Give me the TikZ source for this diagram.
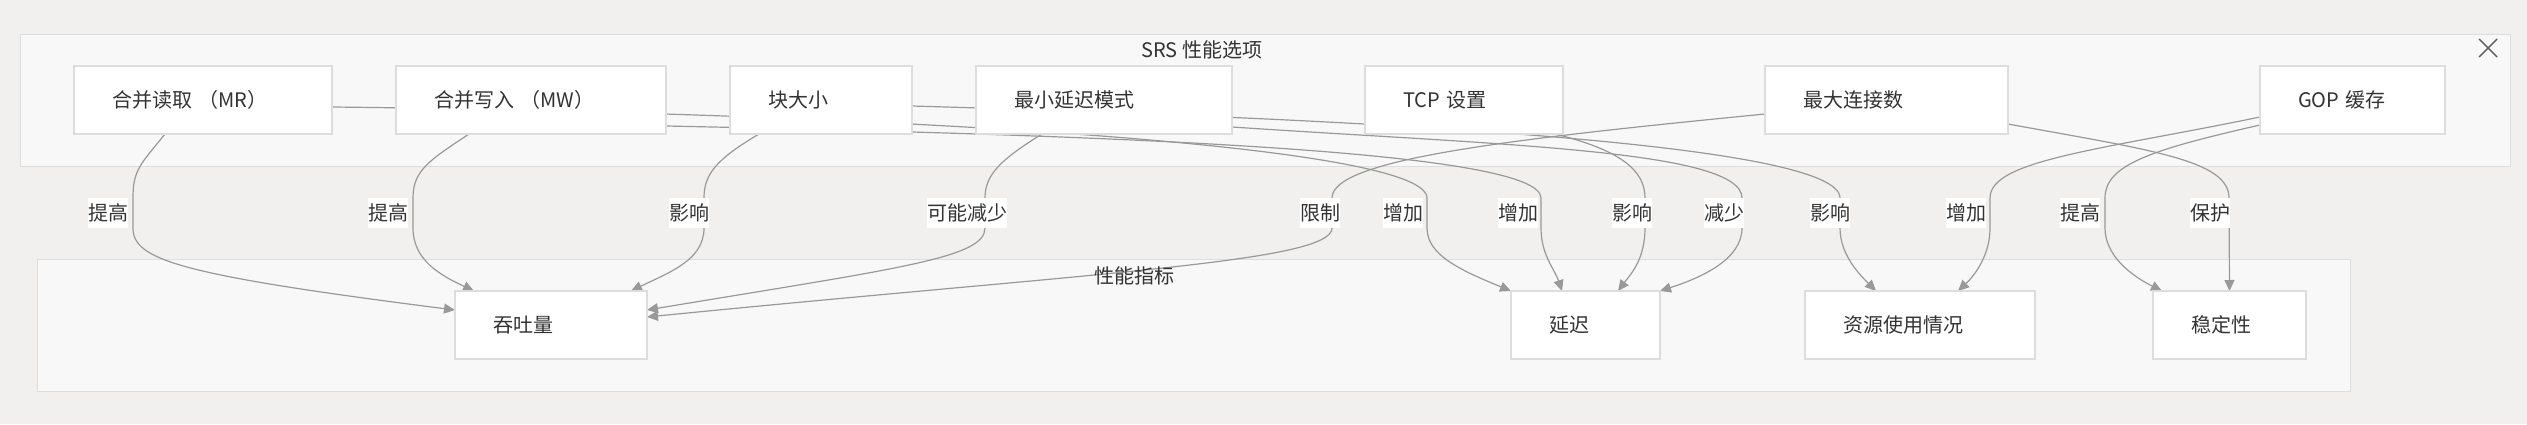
\documentclass[tikz,border=0pt]{standalone}
\usepackage{fontspec}
\setmainfont{Noto Sans CJK SC}
\usepackage{tikz}
\usetikzlibrary{positioning,arrows.meta,backgrounds}
\definecolor{canvas}{HTML}{F1F0EE}
\definecolor{panel}{HTML}{F8F8F8}
\definecolor{frame}{HTML}{DDDDDD}
\definecolor{wire}{HTML}{999999}
\definecolor{ink}{HTML}{333333}
\pgfdeclarelayer{wires}
\pgfsetlayers{background,wires,main}

\begin{document}
\begin{tikzpicture}[
  x=0.5pt,y=-0.5pt,
  font=\fontsize{10pt}{12pt}\selectfont,
  text=ink,
  node distance=32pt,
  box/.style={draw=frame,line width=0.6pt,fill=white,inner xsep=19pt,inner ysep=0pt,
    outer sep=0pt,minimum height=34pt,text width=#1,align=left},
  group/.style={draw=frame,line width=0.6pt,fill=panel,anchor=north west,inner sep=0pt},
  link/.style={draw=wire,line width=0.6pt,-{Triangle[length=5.5pt,width=5pt]}},
  tag/.style={fill=white,inner xsep=0pt,inner ysep=0pt,outer sep=0pt,minimum height=15pt}
]
\useasboundingbox (0,0) rectangle (2527,424);
\begin{scope}[on background layer]
\fill[canvas] (0,0) rectangle (2527,424);
\node[group,minimum width=1245pt,minimum height=66pt] (opts) at (20,34) {};
\node[group,minimum width=1156.5pt,minimum height=66pt] (mets) at (37,259) {};
\end{scope}
\node (opts-title) at (1202,50) {SRS 性能选项};
\node (mets-title) at (1134,276) {性能指标};
\draw[ink!80,line width=0.7pt] (2479,39) -- (2497,57) (2479,57) -- (2497,39);

% options
\node[box=91pt,anchor=north west] (mr) at (74,66) {合并读取 （MR）};
\node[box=97pt,right=of mr] (mw) {合并写入 （MW）};
\node[box=53pt,right=of mw] (cs) {块大小};
\node[box=90pt,right=of cs] (ml) {最小延迟模式};
\node[box=61pt,right=66.5pt of ml] (tcp) {TCP 设置};
\node[box=83.5pt,right=101pt of tcp] (mc) {最大连接数};
\node[box=54.5pt,right=126pt of mc] (gop) {GOP 缓存};

% metrics
\node[box=58pt,anchor=north west] (tp) at (455,291) {吞吐量};
\node[box=36.5pt,right=432pt of tp] (lat) {延迟};
\node[box=77pt,right=72.5pt of lat] (res) {资源使用情况};
\node[box=38.5pt,right=59pt of res] (st) {稳定性};

\begin{pgfonlayer}{wires}
\draw[link] ([xshift=-19pt]mr.south) .. controls (140,165) and (133,170) .. (133,198) -- (133,228) .. controls (133,260) and (180,275) .. ([yshift=7.5pt]tp.west);
\draw[link] ([xshift=-31pt]mw.south) .. controls (430,160) and (413,170) .. (413,198) -- (413,228) .. controls (413,260) and (440,275) .. ([xshift=-38.5pt]tp.north);
\draw[link] ([xshift=-31pt]cs.south) .. controls (715,160) and (704,175) .. (704,198) -- (704,228) .. controls (704,260) and (670,272) .. ([xshift=40pt]tp.north);
\draw[link] ([xshift=-31pt]ml.south) .. controls (1000,160) and (985,175) .. (985,198) -- (985,228) .. controls (985,258) and (900,268) .. ([yshift=7.5pt]tp.east);
\draw[link] ([yshift=-7pt]mc.west) .. controls (1500,140) and (1332,160) .. (1332,198) -- (1332,228) .. controls (1332,262) and (1100,272) .. ([yshift=4pt]tp.east);
\draw[link] ([yshift=-3.5pt]mr.east) .. controls (800,112) and (1427,140) .. (1427,198) -- (1427,228) .. controls (1427,255) and (1460,270) .. (lat.north west);
\draw[link] ([yshift=-13pt]mw.east) .. controls (1100,135) and (1541,150) .. (1541,198) -- (1541,228) .. controls (1541,255) and (1555,270) .. ([xshift=-11.75pt]lat.north);
\draw[link] ([xshift=-4pt]tcp.south east) .. controls (1620,150) and (1645,170) .. (1645,198) -- (1645,228) .. controls (1645,260) and (1630,275) .. ([xshift=16.25pt]lat.north);
\draw[link] ([yshift=-13.5pt]ml.east) .. controls (1500,145) and (1742,150) .. (1742,198) -- (1742,228) .. controls (1742,260) and (1700,278) .. (lat.north east);
\draw[link] ([yshift=-3pt]cs.east) .. controls (1400,120) and (1840,145) .. (1840,198) -- (1840,228) .. controls (1840,255) and (1860,275) .. ([xshift=-22pt]res.north);
\draw[link] ([yshift=-8.5pt]gop.west) .. controls (2100,150) and (1990,160) .. (1990,198) -- (1990,228) .. controls (1990,255) and (1975,275) .. ([xshift=19pt]res.north);
\draw[link] ([yshift=-12.5pt]gop.west) .. controls (2150,150) and (2105,165) .. (2105,198) -- (2105,228) .. controls (2105,255) and (2130,275) .. ([xshift=4.5pt]st.north west);
\draw[link] ([yshift=-12pt]mc.east) .. controls (2150,150) and (2229,160) .. (2229,198) -- (st.north);
\end{pgfonlayer}

% edge labels
\node[tag] (tag-mr-tp) at (108,213) {提高};
\node[tag] (tag-mw-tp) at (388,213) {提高};
\node[tag] (tag-cs-tp) at (689,213) {影响};
\node[tag] (tag-ml-tp) at (967,213) {可能减少};
\node[tag] (tag-mc-tp) at (1320,213) {限制};
\node[tag] (tag-mr-lat) at (1403,213) {增加};
\node[tag] (tag-mw-lat) at (1518,213) {增加};
\node[tag] (tag-tcp-lat) at (1632,213) {影响};
\node[tag] (tag-ml-lat) at (1724,213) {减少};
\node[tag] (tag-cs-res) at (1830,213) {影响};
\node[tag] (tag-gop-res) at (1966,213) {增加};
\node[tag] (tag-gop-st) at (2080,213) {提高};
\node[tag] (tag-mc-st) at (2210,213) {保护};
\end{tikzpicture}
\end{document}
